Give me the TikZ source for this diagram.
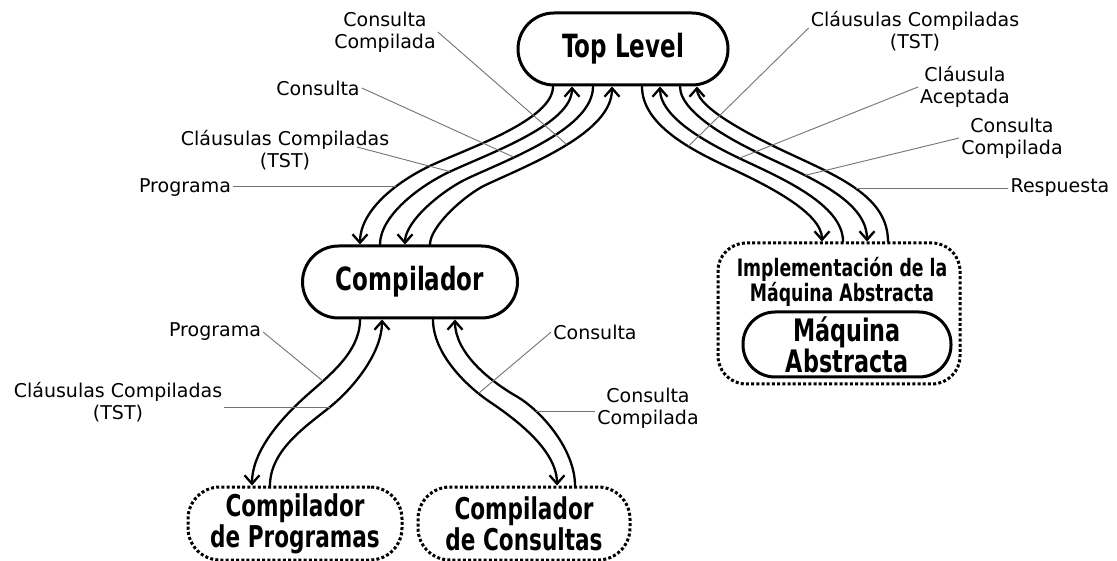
\documentclass[tikz,border=0pt]{standalone}
\usepackage{fontspec}
\usetikzlibrary{arrows.meta,calc}
\newfontfamily\boxfont{DejaVu Sans}[FakeStretch=0.72]
\newfontfamily\labfont{DejaVu Sans}
\tikzset{
  conn/.style={line width=2.3pt, line cap=round},
  arr/.style={-{Straight Barb[length=8.5pt,width=15pt]}},
  leader/.style={draw=black!55, line width=0.9pt},
  solidbox/.style={draw, line width=3pt, rectangle, inner sep=0pt, align=center},
  dotbox/.style={draw, line width=3pt, dash pattern=on 3pt off 2.2pt, rectangle, inner sep=0pt, align=center},
  lab/.style={font=\labfont\fontsize{19}{22}\selectfont, align=center, inner sep=2pt},
  bigA/.style={font=\boxfont\bfseries\fontsize{32}{34}\selectfont},
  bigB/.style={font=\boxfont\bfseries\fontsize{31}{27}\selectfont},
  bigC/.style={font=\boxfont\bfseries\fontsize{30}{31}\selectfont},
}
\begin{document}
\begin{tikzpicture}[x=1pt,y=-1pt]
\useasboundingbox (0,0) rectangle (1117,561);
\fill[white] (0,0) rectangle (1117,561);

% boxes
\node[solidbox, bigA, minimum width=210pt, minimum height=72pt, rounded corners=36pt] (top) at (623,49) {Top Level};
\node[solidbox, bigA, minimum width=215pt, minimum height=72pt, rounded corners=36pt] (comp) at (410,282) {Compilador};
\node[dotbox, minimum width=242pt, minimum height=141pt, rounded corners=28pt] (imp) at (839,313.5) {};
\node[font=\boxfont\bfseries\fontsize{24}{20}\selectfont, align=center, inner sep=0pt] (impl) at (842,282) {Implementación de la\\Máquina Abstracta};
\node[solidbox, bigB, minimum width=208pt, minimum height=65pt, rounded corners=32pt] (mach) at (847,344.5) {Máquina\\Abstracta};
\node[dotbox, bigC, minimum width=214pt, minimum height=73pt, rounded corners=32pt] (progs) at (295,523.5) {Compilador\\de Programas};
\node[dotbox, bigC, minimum width=212pt, minimum height=73pt, rounded corners=32pt] (cons) at (524,523.5) {Compilador\\de Consultas};

% attachment points
\coordinate (t0) at ([xshift=-70pt]top.south);
\coordinate (t1) at ([xshift=-51pt]top.south);
\coordinate (t2) at ([xshift=-30pt]top.south);
\coordinate (t3) at ([xshift=-11pt]top.south);
\coordinate (t4) at ([xshift=19pt]top.south);
\coordinate (t5) at ([xshift=37pt]top.south);
\coordinate (t6) at ([xshift=57pt]top.south);
\coordinate (t7) at ([xshift=74pt]top.south);
\coordinate (c0) at ([xshift=-50pt]comp.north);
\coordinate (c1) at ([xshift=-30pt]comp.north);
\coordinate (c2) at ([xshift=-5pt]comp.north);
\coordinate (c3) at ([xshift=20pt]comp.north);
\coordinate (c4) at ([xshift=-50pt]comp.south);
\coordinate (c5) at ([xshift=-28pt]comp.south);
\coordinate (c6) at ([xshift=23pt]comp.south);
\coordinate (c7) at ([xshift=45pt]comp.south);
\coordinate (m0) at ([xshift=-17pt]imp.north);
\coordinate (m1) at ([xshift=4pt]imp.north);
\coordinate (m2) at ([xshift=28pt]imp.north);
\coordinate (m3) at ([xshift=49pt]imp.north);
\coordinate (p0) at ([xshift=-43pt]progs.north);
\coordinate (p1) at ([xshift=-25pt]progs.north);
\coordinate (q0) at ([xshift=33pt]cons.north);
\coordinate (q1) at ([xshift=51pt]cons.north);

% Top Level <-> Compilador
\draw[conn,arr] (t0) .. controls (553,120) and (468.3,148.2) .. (432,165) .. controls (395.7,181.8) and (360,211) .. (c0) coordinate[pos=0.35] (k0);
\draw[conn,arr] (c1) .. controls (380,216) and (419.2,185.9) .. (450,171.6) coordinate (k1) .. controls (489.9,153.1) and (572,124) .. (t1);
\draw[conn,arr] (t2) .. controls (593,128) and (511.5,158) .. (468,178.2) coordinate[pos=0.7] (k2) .. controls (442.6,190) and (405,221) .. (c2);
\draw[conn,arr] (c3) .. controls (430,226) and (466,194.1) .. (486,184.8) .. controls (533.2,162.9) and (612,132) .. (t3) coordinate[pos=0.5] (k3);

% Top Level <-> Maquina
\draw[conn,arr] (t4) .. controls (642,125) and (691.9,150.3) .. (730,168) coordinate[pos=0.65] (k4) .. controls (768.1,185.7) and (822,213) .. (m0);
\draw[conn,arr] (m1) .. controls (843,208) and (792.6,183.1) .. (750,163.3) .. controls (716.4,147.7) and (660,120) .. (t5) coordinate[pos=0.1] (k5);
\draw[conn,arr] (t6) .. controls (680,115) and (741,145.1) .. (770,158.6) .. controls (817.2,180.5) and (867,203) .. (m2) coordinate[pos=0.25] (k6);
\draw[conn,arr] (m3) .. controls (888,198) and (841.7,177.9) .. (790,153.9) coordinate[pos=0.52] (k7) .. controls (765.5,142.5) and (697,110) .. (t7);

% Compilador <-> sub-compilers
\draw[conn,arr] (c4) .. controls (360,353) and (327.2,376.9) .. (305,397) coordinate[pos=0.75] (k8) .. controls (282.8,417.1) and (252,450) .. (p0);
\draw[conn,arr] (p1) .. controls (270,450) and (306.6,425.9) .. (330,407) coordinate (k9) .. controls (353.4,388.1) and (382,353) .. (c5);
\draw[conn,arr] (c6) .. controls (433,353) and (465.1,385.2) .. (490,402) coordinate[pos=0.85] (k10) .. controls (514.9,418.8) and (557,450) .. (q0);
\draw[conn,arr] (q1) .. controls (575,450) and (542.1,411) .. (516,396) coordinate[pos=0.75] (k11) .. controls (489.9,381) and (455,353) .. (c7);

% labels
\node[lab] (lCC) at (385,32) {Consulta\\Compilada};
\node[lab] (lC) at (318,88) {Consulta};
\node[lab] (lCl) at (285,150) {Cláusulas Compiladas\\(TST)};
\node[lab] (lP) at (185,188) {Programa};
\node[lab] (rCl) at (915,31) {Cláusulas Compiladas\\(TST)};
\node[lab] (rCA) at (965,87) {Cláusula\\Aceptada};
\node[lab] (rCC) at (1012,138) {Consulta\\Compilada};
\node[lab] (rR) at (1060,188) {Respuesta};
\node[lab] (bP) at (215,332) {Programa};
\node[lab] (bCl) at (118,402) {Cláusulas Compiladas\\(TST)};
\node[lab] (bC) at (595,332) {Consulta};
\node[lab] (bCC) at (648,408) {Consulta\\Compilada};

% leaders
\draw[leader] (lCC.east) -- (k3);
\draw[leader] (lC.east) -- (k2);
\draw[leader] ($(lCl.center)+(72,-3)$) -- (k1);
\draw[leader] (k0) -- (k0 -| lP.east);
\draw[leader] ($(rCl.west)+(0,-3)$) -- (k4);
\draw[leader] (rCA.west) -- (k5);
\draw[leader] (rCC.west) -- (k6);
\draw[leader] (k7) -- (k7 -| rR.west);
\draw[leader] (bP.east) -- (k8);
\draw[leader] (k9) -- (k9 -| bCl.east);
\draw[leader] (bC.west) -- (k10);
\draw[leader] (k11) -- (k11 -| bCC.west);
\end{tikzpicture}
\end{document}
